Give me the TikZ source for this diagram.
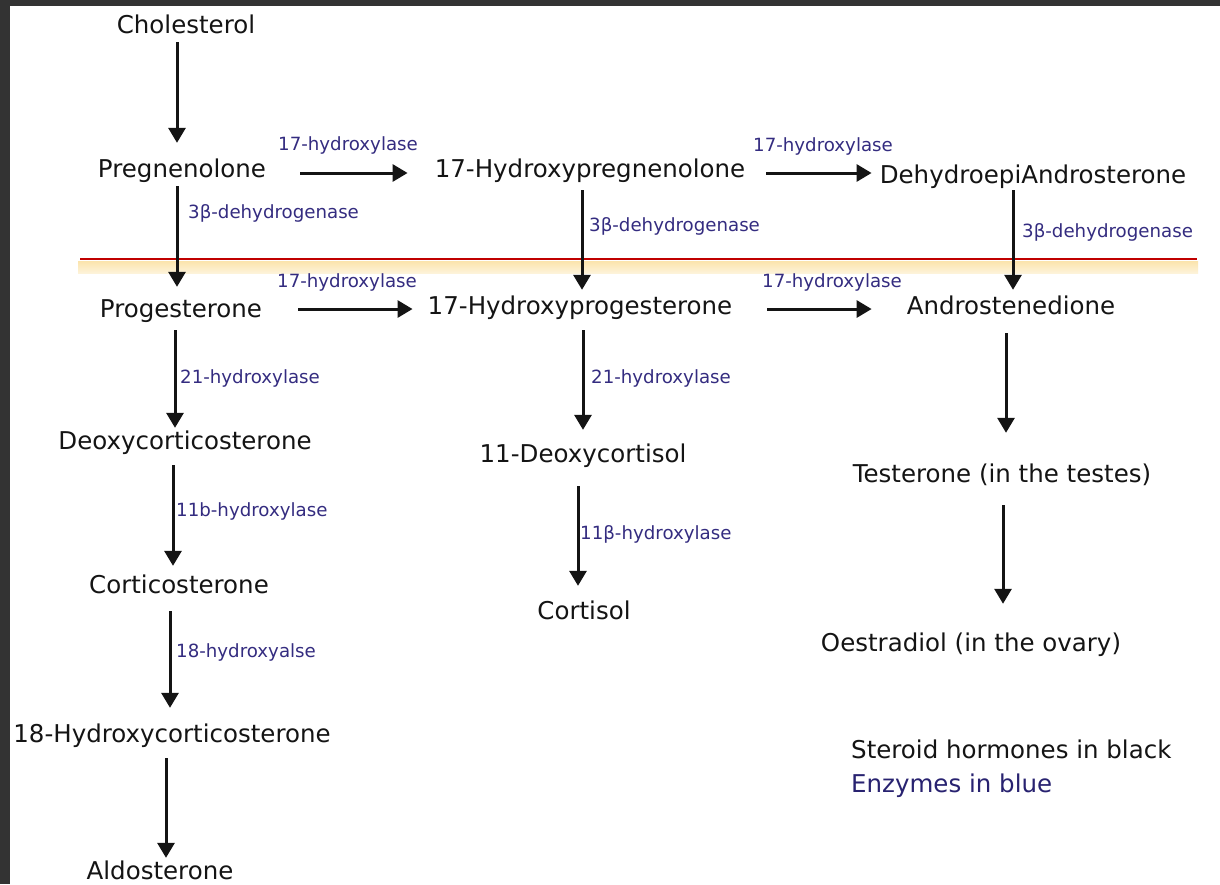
\documentclass[tikz,border=0pt]{standalone}
\usepackage{fontspec}
\setmainfont{DejaVu Sans}
\usetikzlibrary{arrows.meta}
\definecolor{enzblue}{RGB}{52,44,128}
\definecolor{legblue}{RGB}{40,34,112}
\definecolor{frame}{RGB}{51,51,51}
\definecolor{redline}{RGB}{192,0,0}
\definecolor{band}{RGB}{251,228,172}
\definecolor{ink}{RGB}{20,20,20}
\begin{document}
\begin{tikzpicture}[x=1pt,y=-1pt,
  chem/.style={font=\fontsize{24.5}{28}\selectfont, text=ink, inner sep=0pt, text height=18pt, text depth=5pt},
  enz/.style={font=\fontsize{18.2}{20}\selectfont, text=enzblue, inner sep=0pt, text height=13pt, text depth=4pt, anchor=west},
  arr/.style={draw=ink, line width=3pt, -{Triangle[width=17pt,length=15pt]}}]
\useasboundingbox (0,0) rectangle (1220,884);
\fill[white] (0,0) rectangle (1220,884);
\fill[frame] (0,0) rectangle (1220,6);
\fill[frame] (0,0) rectangle (10,884);
% separator
\shade[top color=band, bottom color=band!45!white] (78,261) rectangle (1198,273);
\draw[redline, line width=1.8pt] (80,259) -- (1197,259);
% steroids
\node[chem] (chol) at (186,26.5) {Cholesterol};
\node[chem] (preg) at (182,170.5) {Pregnenolone};
\node[chem] (ohpreg) at (590,170.5) {17-Hydroxypregnenolone};
\node[chem] (dhea) at (1033,176.5) {DehydroepiAndrosterone};
\node[chem] (prog) at (181,310.5) {Progesterone};
\node[chem] (ohprog) at (580,307.5) {17-Hydroxyprogesterone};
\node[chem] (andro) at (1011,307.5) {Androstenedione};
\node[chem] (doc) at (185,442.5) {Deoxycorticosterone};
\node[chem] (cortico) at (179,586.5) {Corticosterone};
\node[chem] (ohcort) at (172,735.5) {18-Hydroxycorticosterone};
\node[chem] (aldo) at (160,872.5) {Aldosterone};
\node[chem] (deoxy) at (583,455.5) {11-Deoxycortisol};
\node[chem] (cortisol) at (584,612.5) {Cortisol};
\node[chem] (testo) at (1002,475.5) {Testerone (in the testes)};
\node[chem] (oestr) at (971,644.5) {Oestradiol (in the ovary)};
% enzymes
\node[enz] (e1) at (278,146) {17-hydroxylase};
\node[enz] (e2) at (753,147) {17-hydroxylase};
\node[enz] (e3) at (188,214) {3β-dehydrogenase};
\node[enz] (e4) at (589,227) {3β-dehydrogenase};
\node[enz] (e5) at (1022,233) {3β-dehydrogenase};
\node[enz] (e6) at (277,283) {17-hydroxylase};
\node[enz] (e7) at (762,283) {17-hydroxylase};
\node[enz] (e8) at (180,379) {21-hydroxylase};
\node[enz] (e9) at (591,379) {21-hydroxylase};
\node[enz] (e10) at (176,512) {11b-hydroxylase};
\node[enz] (e11) at (580,535) {11β-hydroxylase};
\node[enz] (e12) at (176,653) {18-hydroxyalse};
% legend
\node[chem, anchor=west] (leg1) at (851,751.5) {Steroid hormones in black};
\node[chem, anchor=west, text=legblue] (leg2) at (851,785.5) {Enzymes in blue};
% vertical arrows
\draw[arr, shorten <=4pt, shorten >=16pt] ([xshift=-9pt]chol.south) coordinate (v1) -- (v1 |- preg.north);
\draw[arr, shorten <=4pt, shorten >=12pt] ([xshift=-5pt]preg.south) coordinate (v2) -- (v2 |- prog.north);
\draw[arr, shorten <=8pt, shorten >=6pt] ([xshift=-8pt]ohpreg.south) coordinate (v3) -- (v3 |- ohprog.north);
\draw[arr, shorten <=2pt, shorten >=6pt] ([xshift=-20pt]dhea.south) coordinate (v4) -- (v4 |- andro.north);
\draw[arr, shorten <=8pt, shorten >=3pt] ([xshift=-6pt]prog.south) coordinate (v5) -- (v5 |- doc.north);
\draw[arr, shorten <=11pt, shorten >=9pt] ([xshift=-12pt]doc.south) coordinate (v6) -- (v6 |- cortico.north);
\draw[arr, shorten <=13pt, shorten >=16pt] ([xshift=-9pt]cortico.south) coordinate (v7) -- (v7 |- ohcort.north);
\draw[arr, shorten <=11pt, shorten >=3pt] ([xshift=-6pt]ohcort.south) coordinate (v8) -- (v8 |- aldo.north);
\draw[arr, shorten <=11pt, shorten >=14pt] ([xshift=3pt]ohprog.south) coordinate (v9) -- (v9 |- deoxy.north);
\draw[arr, shorten <=19pt, shorten >=15pt] ([xshift=-5pt]deoxy.south) coordinate (v10) -- (v10 |- cortisol.north);
\draw[arr, shorten <=14pt, shorten >=31pt] ([xshift=-5pt]andro.south) coordinate (v11) -- (v11 |- testo.north);
\draw[arr, shorten <=18pt, shorten >=29pt] ([xshift=1pt]testo.south) coordinate (v12) -- (v12 |- oestr.north);
% horizontal arrows
\draw[arr, shorten <=34pt, shorten >=27pt] ([yshift=-2.5pt]preg.east) coordinate (h1) -- (h1 -| ohpreg.west);
\draw[arr, shorten <=21pt, shorten >=8pt] ([yshift=-2.5pt]ohpreg.east) coordinate (h2) -- (h2 -| dhea.west);
\draw[arr, shorten <=36pt, shorten >=15pt] ([yshift=1.5pt]prog.east) coordinate (h3) -- (h3 -| ohprog.west);
\draw[arr, shorten <=35pt, shorten >=35pt] ([yshift=-1.5pt]ohprog.east) coordinate (h4) -- (h4 -| andro.west);
\end{tikzpicture}
\end{document}
